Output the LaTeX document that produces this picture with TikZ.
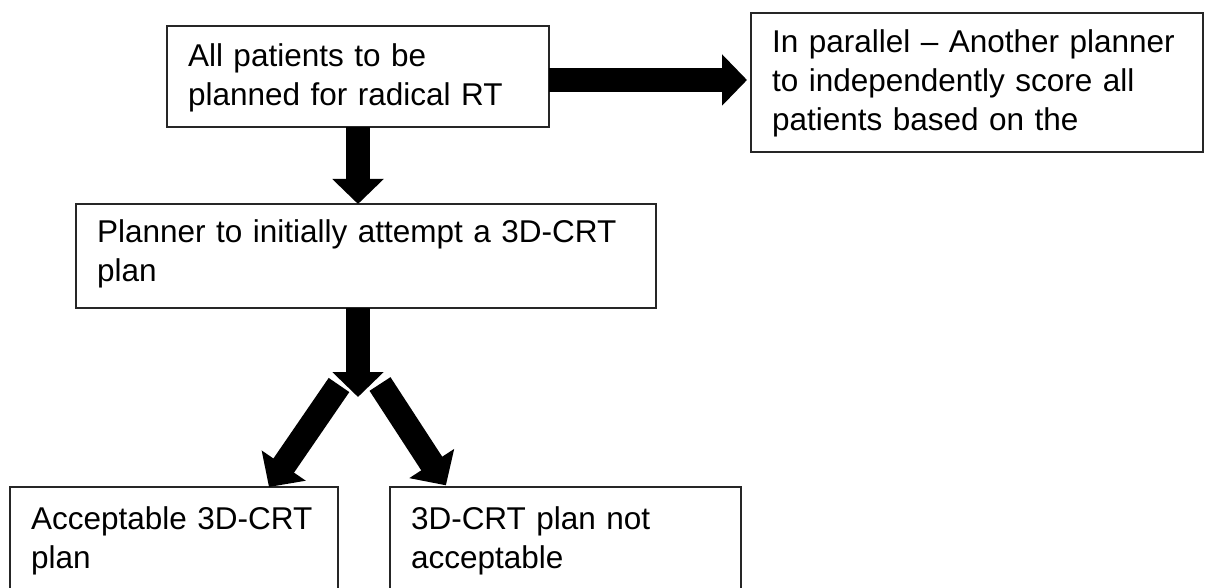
\documentclass[tikz,border=0pt]{standalone}
\usepackage{fontspec}
\setmainfont{Liberation Sans}
\usetikzlibrary{arrows.meta,calc}
\begin{document}
\begin{tikzpicture}[x=1pt,y=-1pt,
  box/.style={draw=black!85, line width=1.5pt, anchor=north west, inner xsep=21pt, inner ysep=0pt, outer sep=0pt, align=left, font=\fontsize{31.5}{39}\selectfont},
  blockarrow/.style={line width=24pt, -{Triangle[width=50pt,length=25pt]}},
  diagarrow/.style={line width=25pt, -{Triangle[width=52pt,length=26pt]}}
]
\useasboundingbox (0,0) rectangle (1208,588);
\clip (0,0) rectangle (1208,588);
\node[box, text width=340pt, text height=41pt, text depth=60pt] (b1) at (167,26) {All patients to be\\planned for radical RT};
\node[box, text width=410pt, text height=40pt, text depth=99pt] (r) at (751,13) {In parallel – Another planner\\to independently score all\\patients based on the};
\node[box, text width=538pt, text height=39pt, text depth=65pt] (b2) at (76,204) {Planner to initially attempt a 3D-CRT\\plan};
\node[box, text width=286pt, text height=42pt, text depth=78pt] (b3) at (10,487) {Acceptable 3D-CRT\\plan};
\node[box, text width=309pt, text height=42pt, text depth=78pt] (b4) at (390,487) {3D-CRT plan not\\acceptable};
\coordinate (a1) at ([yshift=-3.5pt]b1.east);
\draw[blockarrow, shorten >=4pt] (a1) -- (a1 -| r.west);
\draw[blockarrow] (b1.south) -- (b1.south |- b2.north);
\coordinate (fork) at (358,397);
\coordinate (sL) at (339,385);
\coordinate (sR) at (380,384);
\draw[blockarrow] (b2.south -| fork) -- (fork);
\draw[diagarrow] (sL) -- ($(b3.north west)+(259,0)$);
\draw[diagarrow, shorten >=2pt] (sR) -- ($(b4.north west)+(57,0)$);
\end{tikzpicture}
\end{document}
